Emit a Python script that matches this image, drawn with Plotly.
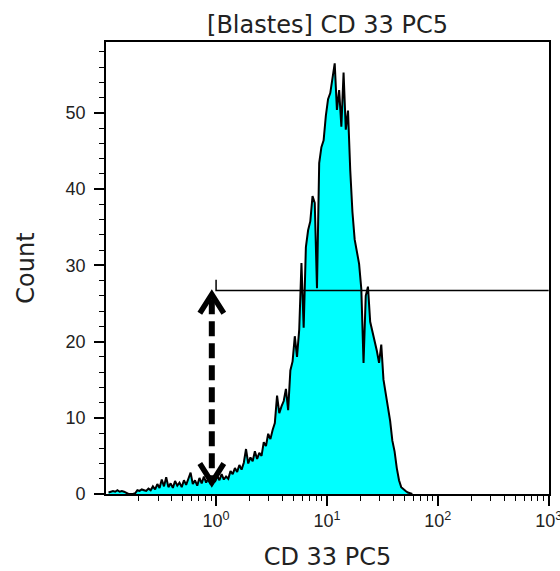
import plotly.graph_objects as go

# Histogram channels: log-spaced bins (decades) and the event count in each
log_start = -0.97
log_step = 0.02
counts = [
    0.2, 0.3, 0.4, 0.3, 0.5, 0.3, 0.4, 0.3, 0.1, 0.0,
    0.0, 0.0, 0.1, 0.5, 0.4, 0.6, 0.5, 0.4, 0.7, 0.5,
    1.0, 0.6, 1.3, 0.8, 1.9, 1.0, 2.2, 0.9, 1.4, 0.8,
    1.7, 1.1, 1.5, 0.9, 1.8, 1.2, 2.0, 2.8, 1.3, 1.8,
    1.1, 2.1, 1.4, 2.3, 1.5, 2.0, 1.3, 2.2, 1.6, 2.4,
    1.8, 2.6, 1.9, 2.3, 2.0, 3.0, 2.6, 3.4, 2.9, 3.8,
    3.2, 4.1, 5.9, 4.0, 4.8, 4.3, 5.6, 4.6, 5.4, 5.0,
    6.8, 6.3, 7.9, 7.2, 8.4, 9.3, 12.9, 10.6, 11.5, 12.2,
    13.8, 11.0, 16.2, 17.4, 20.7, 18.0, 21.6, 30.3, 21.8, 32.4,
    34.6, 35.8, 39.1, 38.2, 27.0, 43.4, 45.5, 46.4, 49.6, 51.8,
    52.6, 54.8, 56.5, 50.4, 53.0, 48.2, 55.3, 47.8, 50.3, 42.5,
    37.0, 33.4, 31.6, 30.2, 26.9, 17.2, 26.0, 27.2, 22.6, 21.4,
    20.3, 18.8, 17.2, 19.6, 15.0, 13.2, 11.0, 9.6, 7.0, 5.6,
    3.4, 1.8, 0.9, 0.6, 0.4, 0.2, 0.1, 0.0,
]
fluorescence = [10 ** (log_start + i * log_step) for i in range(len(counts))]

# Marker gate: starts at 10^0 at a count level of 26.7
gate_start = 1.0
gate_end = 1000.0
gate_level = 26.7
gate_tick_top = 28.1

# Double-headed arrow measuring from the baseline up to the gate level
arrow_x = 0.915
arrow_top = 26.2
arrow_bottom = 1.5

x_tick_vals = [1, 10, 100, 1000]
x_tick_text = ["10<sup>0</sup>", "10<sup>1</sup>", "10<sup>2</sup>", "10<sup>3</sup>"]
y_tick_vals = [0, 10, 20, 30, 40, 50]

x_log_range = [-0.993, 3.003]
y_range = [0, 59.3]

W, H = 560, 571
margin = dict(l=106, r=11, t=42, b=77)
plot_w = W - margin["l"] - margin["r"]
plot_h = H - margin["t"] - margin["b"]
px_per_decade = plot_w / (x_log_range[1] - x_log_range[0])
px_per_count = plot_h / (y_range[1] - y_range[0])

# chevron arrowhead size, in pixels converted to axis units
head_dx = 10 ** (12 / px_per_decade)
head_dy = 19 / px_per_count
gap_dy = 5 / px_per_count

text_color = "#222222"

fig = go.Figure()

fig.add_trace(go.Scatter(
    x=fluorescence, y=counts, mode="lines",
    line=dict(color="black", width=2),
    fill="tozeroy", fillcolor="#00FFFF",
    hoverinfo="skip", showlegend=False,
))

# gate marker
fig.add_trace(go.Scatter(
    x=[gate_start, gate_start, gate_end],
    y=[gate_tick_top, gate_level, gate_level],
    mode="lines", line=dict(color="black", width=1.5),
    hoverinfo="skip", showlegend=False,
))

# dashed shaft of the arrow
fig.add_trace(go.Scatter(
    x=[arrow_x, arrow_x],
    y=[arrow_top - gap_dy, arrow_bottom + gap_dy],
    mode="lines", line=dict(color="black", width=6, dash="15px,7px"),
    hoverinfo="skip", showlegend=False,
))

# arrowheads at both ends
for tip, sign in ((arrow_top, -1), (arrow_bottom, 1)):
    fig.add_trace(go.Scatter(
        x=[arrow_x / head_dx, arrow_x, arrow_x * head_dx],
        y=[tip + sign * head_dy, tip, tip + sign * head_dy],
        mode="lines", line=dict(color="black", width=5.5),
        hoverinfo="skip", showlegend=False,
    ))

minor_x = [m * 10 ** d for d in range(-1, 3) for m in range(2, 10)]

fig.update_layout(
    width=W, height=H, margin=margin,
    paper_bgcolor="white", plot_bgcolor="white",
    title=dict(
        text="[Blastes] CD 33 PC5",
        font=dict(family="DejaVu Sans", size=24, color=text_color),
        x=(margin["l"] + plot_w / 2) / W, xanchor="center",
        y=1 - 25 / H, yanchor="middle", yref="container",
    ),
    font=dict(family="DejaVu Sans", color=text_color),
)

fig.update_xaxes(
    type="log", range=x_log_range, automargin=False,
    tickvals=x_tick_vals, ticktext=x_tick_text, ticklabeloverflow="allow",
    ticks="outside", ticklen=10, tickwidth=1.5, tickcolor="black",
    tickfont=dict(family="Liberation Sans Narrow, Liberation Sans", size=18, color=text_color),
    minor=dict(tickvals=minor_x, ticks="outside", ticklen=5, tickwidth=1.2, tickcolor="black", showgrid=False),
    showline=True, linecolor="black", linewidth=1.6, mirror=True,
    showgrid=False, zeroline=False,
    title=dict(text="CD 33 PC5", font=dict(family="DejaVu Sans", size=24, color=text_color), standoff=22),
)

fig.update_yaxes(
    range=y_range, tickvals=y_tick_vals, automargin=False,
    ticks="outside", ticklen=10, tickwidth=1.5, tickcolor="black", ticklabelstandoff=5,
    tickfont=dict(family="Liberation Sans Narrow, Liberation Sans", size=18, color=text_color),
    minor=dict(dtick=2, tick0=0, ticks="outside", ticklen=5, tickwidth=1.2, tickcolor="black", showgrid=False),
    showline=True, linecolor="black", linewidth=1.6, mirror=True,
    showgrid=False, zeroline=False,
    title=dict(text="Count", font=dict(family="DejaVu Sans", size=24, color=text_color), standoff=24),
)

fig.write_html("out.html")
